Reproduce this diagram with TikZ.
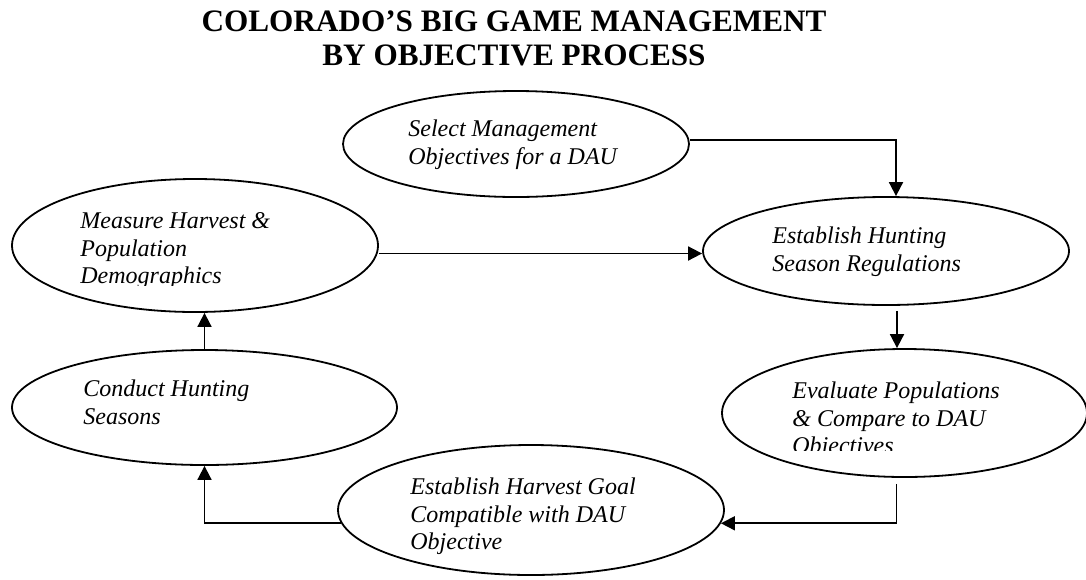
\documentclass[tikz,border=0pt]{standalone}
\usepackage{fontspec}
\setmainfont{Liberation Serif}
\usetikzlibrary{arrows.meta,shapes.geometric}
\tikzset{
  ell/.style={ellipse, draw=black, line width=0.9pt, inner sep=0pt, fill=white},
  lbl/.style={anchor=north west, inner sep=0pt, align=left, font=\fontsize{12}{13.8}\selectfont\itshape},
  arr/.style={draw=black, line width=0.9pt, -{Triangle[length=7pt,width=7pt]}},
  ttl/.style={anchor=north, inner sep=0pt, align=center, font=\fontsize{15.6}{16.8}\selectfont\bfseries}
}
\begin{document}
\begin{tikzpicture}[x=0.5pt,y=-0.5pt]
\useasboundingbox[fill=white] (0,0) rectangle (1086,579);
\node[ttl] (title) at (514,7.5) {\strut COLORADO’S BIG GAME MANAGEMENT\\BY OBJECTIVE PROCESS};
% ellipses
\node[ell, minimum width=173pt, minimum height=53pt] (sel) at (516,144) {};
\node[ell, minimum width=183pt, minimum height=66.5pt] (meas) at (195,245.5) {};
\node[ell, minimum width=183pt, minimum height=54pt] (hunt) at (886,251) {};
\node[ell, minimum width=192.5pt, minimum height=57.5pt] (cond) at (204.5,407.5) {};
\node[ell, minimum width=182.5pt, minimum height=64pt] (eval) at (904.5,413) {};
\node[ell, minimum width=193pt, minimum height=65pt] (harv) at (531,510) {};
% texts
\node[lbl] (selt) at (408,116.7) {\strut Select Management\\Objectives for a DAU};
\begin{scope}
\clip (0,150) rectangle (400,285.5);
\node[lbl] (meast) at (80,208.7) {\strut Measure Harvest \&\\Population\\Demographics};
\end{scope}
\node[lbl] (huntt) at (772,223.7) {\strut Establish Hunting\\Season Regulations};
\node[lbl] (condt) at (83,376.7) {\strut Conduct Hunting\\Seasons};
\begin{scope}
\clip (700,340) rectangle (1086,450.5);
\node[lbl] (evalt) at (792,378.7) {\strut Evaluate Populations\\\& Compare to DAU\\Objectives};
\end{scope}
\node[lbl] (harvt) at (410,474.7) {\strut Establish Harvest Goal\\Compatible with DAU\\Objective};
% connectors
\draw[arr] ([yshift=2pt]sel.east) -| ([xshift=5pt]hunt.north);
\draw[arr] ([yshift=-4pt]meas.east) -- ([yshift=-1.25pt]hunt.west);
\draw[arr] ([xshift=5.5pt,yshift=-2.5pt]hunt.south) -- ([xshift=5.5pt]hunt.south |- eval.north);
\draw[arr] ([xshift=-4pt,yshift=-3pt]eval.south) |- (harv.-4);
\draw[arr] (harv.184) -| (cond.south);
\draw[arr] (cond.north) -- (cond.north |- meas.south);
\end{tikzpicture}
\end{document}
